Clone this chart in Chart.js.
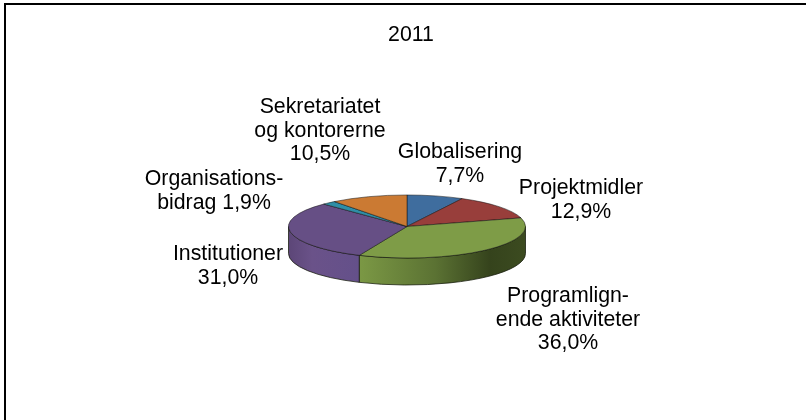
<!DOCTYPE html>
<html>
<head>
<meta charset="utf-8">
<style>html,body{margin:0;padding:0;background:#fff;overflow:hidden}canvas{display:block}</style>
<script src="https://cdn.jsdelivr.net/npm/chart.js@4"></script>
</head>
<body>
<canvas id="c" width="806" height="420"></canvas>
<script>
const titleText = '2011';
const categories = ['Globalisering','Projektmidler','Programlignende aktiviteter','Institutioner','Organisationsbidrag','Sekretariatet og kontorerne'];
const values = [7.7,12.9,36.0,31.0,1.9,10.5];
const topColors = ['#3f6d9e','#983e3b','#7e9c47','#664f85','#2f8ea6','#cb7a33'];
const wallLight = ['#3f6d9e','#983e3b','#7a9744','#6a5289','#2f8ea6','#cb7a33'];
const wallDark = ['#22394f','#4f1f1e','#35431c','#64508a','#174754','#663d1a'];
const labelLines = [
  ['Globalisering','7,7%'],
  ['Projektmidler','12,9%'],
  ['Programlign-','ende aktiviteter','36,0%'],
  ['Institutioner','31,0%'],
  ['Organisations-','bidrag 1,9%'],
  ['Sekretariatet','og kontorerne','10,5%']
];
const labelAnchors = [[460,151],[581,187],[568,295],[228,253],[214,178],[320,106]];
const titleAnchor = [411,34];
const squash = 0.266, depth = 27, fontPx = 21.3, lineGap = 23.5;

const pseudo3d = {
  id:'pseudo3d',
  beforeDraw(chart){
    const c = chart.ctx;
    c.save(); c.fillStyle='#fff'; c.fillRect(0,0,806,420);
    c.strokeStyle='#000'; c.lineWidth=2;
    c.beginPath(); c.moveTo(806,4); c.lineTo(5,4); c.lineTo(5,420); c.stroke();
    c.restore();
  },
  beforeDatasetsDraw(chart){
    const c = chart.ctx, arcs = chart.getDatasetMeta(0).data;
    const a0 = arcs[0], r = a0.outerRadius, cx = a0.x, cy = a0.y;
    const ry = r*squash;
    arcs.forEach((a,i)=>{
      const s = Math.max(a.startAngle,0), e = Math.min(a.endAngle,Math.PI);
      const pieces = [];
      if (e > s) pieces.push([s,e]);
      const s2 = Math.max(a.startAngle,2*Math.PI), e2 = Math.min(a.endAngle,3*Math.PI);
      if (e2 > s2) pieces.push([s2,e2]);
      pieces.forEach(([p,q])=>{
        const g = c.createLinearGradient(cx-r,0,cx+r,0);
        if (i===2){
          g.addColorStop(0,wallLight[i]); g.addColorStop(0.31,wallLight[i]);
          g.addColorStop(0.62,'#5b7233'); g.addColorStop(0.85,wallDark[i]); g.addColorStop(1,'#3c4b20');
        } else {
          g.addColorStop(0,'#5c4677'); g.addColorStop(0.1,wallLight[i]); g.addColorStop(0.3,wallDark[i]);
        }
        c.beginPath();
        c.ellipse(cx,cy,r,ry,0,p,q,false);
        c.lineTo(cx+r*Math.cos(q),cy+ry*Math.sin(q)+depth);
        c.ellipse(cx,cy+depth,r,ry,0,q,p,true);
        c.closePath();
        c.fillStyle=g; c.fill();
        c.strokeStyle='rgba(20,25,10,.75)'; c.lineWidth=1; c.stroke();
      });
    });
    c.save();
    c.translate(cx,cy); c.scale(1,squash); c.translate(-cx,-cy);
  },
  afterDatasetsDraw(chart){
    const c = chart.ctx;
    c.restore();
    c.save();
    c.fillStyle='#000'; c.textAlign='center'; c.textBaseline='alphabetic';
    c.font=fontPx+'px "Liberation Sans", Arial, sans-serif';
    c.fillText(titleText,titleAnchor[0],titleAnchor[1]+7);
    labelLines.forEach((lines,i)=>{
      lines.forEach((t,j)=>c.fillText(t,labelAnchors[i][0],labelAnchors[i][1]+7+j*lineGap));
    });
    c.restore();
  }
};

new Chart(document.getElementById('c'),{
  type:'pie',
  data:{labels:categories,datasets:[{
    data:values,backgroundColor:topColors,
    borderColor:'rgba(15,15,15,.8)',borderWidth:1,radius:118.5,hoverOffset:0
  }]},
  options:{
    responsive:false,animation:false,
    layout:{padding:{left:8,right:0,top:33,bottom:0}},
    plugins:{legend:{display:false},tooltip:{enabled:false},title:{display:false}}
  },
  plugins:[pseudo3d]
});
</script>
</body>
</html>
